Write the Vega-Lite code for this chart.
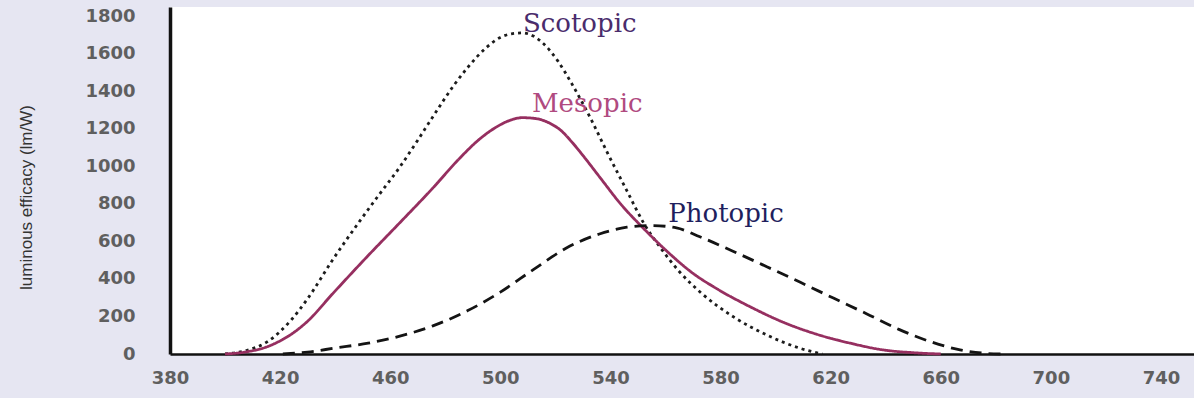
{
  "$schema": "https://vega.github.io/schema/vega-lite/v6.json",
  "width": 1024,
  "height": 347,
  "autosize": {"type": "none"},
  "padding": {"left": 170, "top": 7, "right": 0, "bottom": 44},
  "background": "#e6e6f2",
  "config": {
    "view": {"fill": "white", "stroke": null},
    "axis": {
      "grid": false,
      "ticks": false,
      "domainColor": "#111111",
      "labelFont": "DejaVu Sans",
      "labelFontWeight": "bold",
      "labelFontSize": 18,
      "labelColor": "#5f5f5f",
      "labelOverlap": false,
      "labelFlush": false,
      "format": "d"
    }
  },
  "datasets": {
    "curves": [
      {"curve": "Scotopic", "nm": 400, "v": 0},
      {"curve": "Scotopic", "nm": 408, "v": 20},
      {"curve": "Scotopic", "nm": 415, "v": 62},
      {"curve": "Scotopic", "nm": 424, "v": 181},
      {"curve": "Scotopic", "nm": 430, "v": 295},
      {"curve": "Scotopic", "nm": 439, "v": 500},
      {"curve": "Scotopic", "nm": 449, "v": 710},
      {"curve": "Scotopic", "nm": 456, "v": 850},
      {"curve": "Scotopic", "nm": 463.5, "v": 997},
      {"curve": "Scotopic", "nm": 470, "v": 1140},
      {"curve": "Scotopic", "nm": 475.5, "v": 1265},
      {"curve": "Scotopic", "nm": 483, "v": 1430},
      {"curve": "Scotopic", "nm": 488, "v": 1525},
      {"curve": "Scotopic", "nm": 495, "v": 1635},
      {"curve": "Scotopic", "nm": 500, "v": 1688},
      {"curve": "Scotopic", "nm": 504, "v": 1707},
      {"curve": "Scotopic", "nm": 508, "v": 1712},
      {"curve": "Scotopic", "nm": 512, "v": 1695},
      {"curve": "Scotopic", "nm": 516, "v": 1650},
      {"curve": "Scotopic", "nm": 521, "v": 1560},
      {"curve": "Scotopic", "nm": 526, "v": 1440},
      {"curve": "Scotopic", "nm": 533, "v": 1250},
      {"curve": "Scotopic", "nm": 539, "v": 1070},
      {"curve": "Scotopic", "nm": 546, "v": 870},
      {"curve": "Scotopic", "nm": 552, "v": 700},
      {"curve": "Scotopic", "nm": 558, "v": 570},
      {"curve": "Scotopic", "nm": 565, "v": 440},
      {"curve": "Scotopic", "nm": 573, "v": 325},
      {"curve": "Scotopic", "nm": 585, "v": 195},
      {"curve": "Scotopic", "nm": 597, "v": 100},
      {"curve": "Scotopic", "nm": 609, "v": 30},
      {"curve": "Scotopic", "nm": 617, "v": 0},
      {"curve": "Mesopic", "nm": 400, "v": 0},
      {"curve": "Mesopic", "nm": 408, "v": 12},
      {"curve": "Mesopic", "nm": 415, "v": 37},
      {"curve": "Mesopic", "nm": 420, "v": 70},
      {"curve": "Mesopic", "nm": 425, "v": 115},
      {"curve": "Mesopic", "nm": 430, "v": 175},
      {"curve": "Mesopic", "nm": 439, "v": 320},
      {"curve": "Mesopic", "nm": 452, "v": 525},
      {"curve": "Mesopic", "nm": 463.5, "v": 700},
      {"curve": "Mesopic", "nm": 475.5, "v": 885},
      {"curve": "Mesopic", "nm": 485, "v": 1040},
      {"curve": "Mesopic", "nm": 492, "v": 1140},
      {"curve": "Mesopic", "nm": 498, "v": 1205},
      {"curve": "Mesopic", "nm": 503, "v": 1243},
      {"curve": "Mesopic", "nm": 508, "v": 1260},
      {"curve": "Mesopic", "nm": 513, "v": 1255},
      {"curve": "Mesopic", "nm": 518, "v": 1230},
      {"curve": "Mesopic", "nm": 522, "v": 1192},
      {"curve": "Mesopic", "nm": 526, "v": 1130},
      {"curve": "Mesopic", "nm": 531, "v": 1040},
      {"curve": "Mesopic", "nm": 536, "v": 945},
      {"curve": "Mesopic", "nm": 544, "v": 795},
      {"curve": "Mesopic", "nm": 552, "v": 670},
      {"curve": "Mesopic", "nm": 560, "v": 555},
      {"curve": "Mesopic", "nm": 570, "v": 430},
      {"curve": "Mesopic", "nm": 579, "v": 345},
      {"curve": "Mesopic", "nm": 591, "v": 250},
      {"curve": "Mesopic", "nm": 603, "v": 168},
      {"curve": "Mesopic", "nm": 615, "v": 105},
      {"curve": "Mesopic", "nm": 627, "v": 58},
      {"curve": "Mesopic", "nm": 639, "v": 22},
      {"curve": "Mesopic", "nm": 651, "v": 6},
      {"curve": "Mesopic", "nm": 660, "v": 0},
      {"curve": "Photopic", "nm": 421, "v": 0},
      {"curve": "Photopic", "nm": 430, "v": 10},
      {"curve": "Photopic", "nm": 440, "v": 32},
      {"curve": "Photopic", "nm": 452, "v": 58},
      {"curve": "Photopic", "nm": 463.5, "v": 95},
      {"curve": "Photopic", "nm": 475.5, "v": 150},
      {"curve": "Photopic", "nm": 488, "v": 230},
      {"curve": "Photopic", "nm": 500, "v": 330},
      {"curve": "Photopic", "nm": 512, "v": 450},
      {"curve": "Photopic", "nm": 524, "v": 565},
      {"curve": "Photopic", "nm": 536, "v": 640},
      {"curve": "Photopic", "nm": 546, "v": 676},
      {"curve": "Photopic", "nm": 555, "v": 685},
      {"curve": "Photopic", "nm": 564, "v": 672},
      {"curve": "Photopic", "nm": 572.5, "v": 625},
      {"curve": "Photopic", "nm": 584.5, "v": 548},
      {"curve": "Photopic", "nm": 597, "v": 464},
      {"curve": "Photopic", "nm": 609, "v": 382},
      {"curve": "Photopic", "nm": 621, "v": 298},
      {"curve": "Photopic", "nm": 633, "v": 215},
      {"curve": "Photopic", "nm": 645, "v": 130},
      {"curve": "Photopic", "nm": 657, "v": 62},
      {"curve": "Photopic", "nm": 667, "v": 22},
      {"curve": "Photopic", "nm": 675, "v": 5},
      {"curve": "Photopic", "nm": 682, "v": 0}
    ],
    "labels": [
      {"curve": "Scotopic", "nm": 508.2, "v": 1717},
      {"curve": "Mesopic", "nm": 511.5, "v": 1290},
      {"curve": "Photopic", "nm": 561, "v": 704}
    ]
  },
  "encoding": {
    "x": {
      "field": "nm",
      "type": "quantitative",
      "scale": {"domain": [380, 752], "nice": false, "zero": false},
      "axis": {
        "title": null,
        "values": [380, 420, 460, 500, 540, 580, 620, 660, 700, 740],
        "domainWidth": 2.5,
        "labelPadding": 15,
        "labelOverlap": false
      }
    },
    "y": {
      "field": "v",
      "type": "quantitative",
      "scale": {"domain": [0, 1850], "nice": false},
      "axis": {
        "title": "luminous efficacy (lm/W)",
        "values": [0, 200, 400, 600, 800, 1000, 1200, 1400, 1600, 1800],
        "domainWidth": 3.5,
        "labelPadding": 35,
        "labelOverlap": false,
        "labelBound": false,
        "titleFont": "Liberation Sans",
        "titleFontWeight": "normal",
        "titleFontSize": 17,
        "titleColor": "#333333",
        "titleX": -135,
        "titleY": 190
      }
    }
  },
  "layer": [
    {
      "data": {"name": "curves"},
      "mark": {"type": "line", "interpolate": "monotone", "strokeWidth": 2.8},
      "encoding": {
        "color": {
          "field": "curve",
          "type": "nominal",
          "scale": {"domain": ["Scotopic", "Mesopic", "Photopic"], "range": ["#1c1c1c", "#962f60", "#141414"]},
          "legend": null
        },
        "strokeDash": {
          "field": "curve",
          "type": "nominal",
          "scale": {"domain": ["Scotopic", "Mesopic", "Photopic"], "range": [[3, 4], [1, 0], [12, 7]]},
          "legend": null
        }
      }
    },
    {
      "data": {"name": "labels"},
      "mark": {"type": "text", "font": "DejaVu Serif", "fontSize": 26, "align": "left", "baseline": "alphabetic"},
      "encoding": {
        "text": {"field": "curve"},
        "color": {
          "field": "curve",
          "type": "nominal",
          "scale": {"domain": ["Scotopic", "Mesopic", "Photopic"], "range": ["#4a2c6c", "#b04a80", "#1f1f5e"]},
          "legend": null
        }
      }
    }
  ],
  "resolve": {"scale": {"color": "independent"}}
}
